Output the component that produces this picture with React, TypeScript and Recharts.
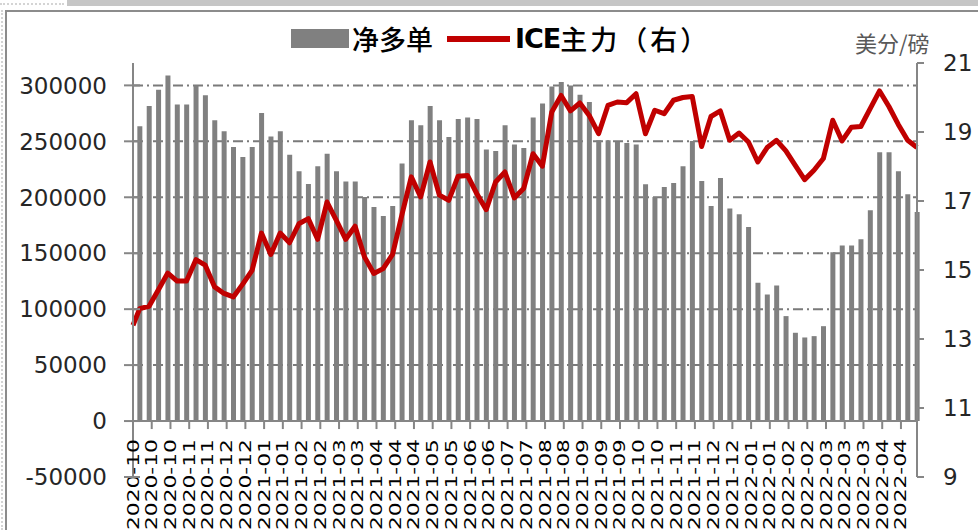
import React from 'react';
import {
  ComposedChart,
  Bar,
  Line,
  XAxis,
  YAxis,
  CartesianGrid,
  ReferenceLine,
  Legend,
} from 'recharts';

// x-axis labels, one every two weeks starting at the axis origin
const tickLabels = [
  '2020-10', '2020-10', '2020-10', '2020-11', '2020-11', '2020-12', '2020-12',
  '2021-01', '2021-01', '2021-02', '2021-02', '2021-03', '2021-03',
  '2021-04', '2021-04', '2021-04', '2021-05', '2021-05', '2021-06', '2021-06',
  '2021-07', '2021-07', '2021-08', '2021-08', '2021-09', '2021-09', '2021-09',
  '2021-10', '2021-10', '2021-11', '2021-11', '2021-12', '2021-12',
  '2022-01', '2022-01', '2022-02', '2022-02', '2022-03', '2022-03', '2022-03',
  '2022-04', '2022-04',
];

// weekly non-commercial net long (lots)
const netLong = [
  263400, 281500, 296200, 308900, 282800, 282800, 300000, 291100, 268800, 258900,
  244900, 236000, 244900, 275300, 254200, 258900, 238100, 223200, 211900, 227700,
  239000, 223200, 214000, 214000, 200300, 191300, 183300, 192200, 230100, 268800,
  264300, 281500, 268800, 253900, 270000, 271200, 270000, 242600, 241400, 264300,
  247100, 244000, 271200, 283700, 299100, 303000, 300000, 291700, 285100, 251000,
  250900, 249400, 248500, 247100, 211600, 200300, 209200, 212800, 227700, 250300,
  214600, 192200, 217200, 189900, 184800, 173500, 123500, 113100, 121200, 93800,
  78900, 74700, 75900, 84800, 150900, 156900, 156900, 162500, 188400, 240200,
  240200, 223200, 202700, 186900,
];

// ICE raw sugar front month (US cents/lb); first value sits on the axis origin
const icePrice = [
  13.4,
  13.88, 13.95, 14.43, 14.91, 14.68, 14.68, 15.3, 15.14, 14.51, 14.32,
  14.22, 14.59, 14.99, 16.07, 15.45, 16.07, 15.79, 16.34, 16.49, 15.89,
  16.97, 16.44, 15.89, 16.27, 15.38, 14.9, 15.04, 15.45, 16.6, 17.7,
  17.12, 18.13, 17.17, 17.02, 17.72, 17.74, 17.21, 16.75, 17.55, 17.84,
  17.09, 17.36, 18.37, 18.01, 19.58, 20.06, 19.61, 19.84, 19.48, 18.95,
  19.77, 19.87, 19.85, 20.11, 18.95, 19.63, 19.53, 19.92, 20.0, 20.03,
  18.58, 19.45, 19.61, 18.76, 18.97, 18.71, 18.13, 18.55, 18.76, 18.45,
  18.03, 17.62, 17.89, 18.23, 19.34, 18.74, 19.14, 19.16, 19.68, 20.19,
  19.74, 19.22, 18.76, 18.55,
];

const leftTicks = [-50000, 0, 50000, 100000, 150000, 200000, 250000, 300000];
const gridValues = [50000, 100000, 150000, 200000, 250000, 300000];
const rightTicks = [9, 11, 13, 15, 17, 19, 21];

// day offsets: axis starts on 2020-10-01, reports every Tuesday from 2020-10-06
const FIRST_REPORT_DAY = 5;
const WEEK = 7;
const LABEL_STEP = 14;
const LAST_DAY = FIRST_REPORT_DAY + WEEK * (netLong.length - 1);

const data = [
  { day: 0, price: icePrice[0] },
  ...netLong.map((net, i) => ({
    day: FIRST_REPORT_DAY + WEEK * i,
    net,
    price: icePrice[i + 1],
  })),
];

const W = 978;
const H = 530;
const PLOT_LEFT = 133;
const PLOT_TOP = 63;
const PLOT_RIGHT = 917;
const PLOT_BOTTOM = 477;
const LEFT_MIN = -50000;
const LEFT_MAX = 320000;
const ZERO_Y = PLOT_TOP + ((LEFT_MAX - 0) / (LEFT_MAX - LEFT_MIN)) * (PLOT_BOTTOM - PLOT_TOP);

const AXIS = '#868686';
const TEXT = '#262626';
const NUM_FONT = '"DejaVu Sans", Verdana, sans-serif';
const CJK_FONT = '"Noto Sans CJK SC", "Noto Sans", sans-serif';

const LeftTick = ({ y, payload }: any) => (
  <g>
    <line x1={PLOT_LEFT - 9} x2={PLOT_LEFT + 7} y1={y} y2={y} stroke={AXIS} strokeWidth={2} />
    <text
      x={PLOT_LEFT - 26}
      y={y}
      dy="0.36em"
      textAnchor="end"
      fill={TEXT}
      fontSize={23}
      fontFamily={NUM_FONT}
    >
      {payload.value}
    </text>
  </g>
);

const RightTick = ({ y, payload }: any) => (
  <g>
    <line x1={PLOT_RIGHT} x2={PLOT_RIGHT + 7} y1={y} y2={y} stroke={AXIS} strokeWidth={2} />
    <text
      x={PLOT_RIGHT + 26}
      y={y}
      dy="0.36em"
      textAnchor="start"
      fill={TEXT}
      fontSize={23}
      fontFamily={NUM_FONT}
    >
      {payload.value}
    </text>
  </g>
);

const DateTick = ({ x, payload }: any) => {
  const label = tickLabels[Math.round(payload.value / LABEL_STEP)];
  return (
    <g>
      <line x1={x} x2={x} y1={ZERO_Y} y2={ZERO_Y + 8} stroke={AXIS} strokeWidth={2} />
      <text
        transform={`translate(${x + 5.5},${ZERO_Y + 18}) rotate(-90)`}
        textAnchor="end"
        fill="#000"
        fontSize={15}
        fontFamily={NUM_FONT}
        textLength={91}
        lengthAdjust="spacingAndGlyphs"
      >
        {label}
      </text>
    </g>
  );
};

// bar swatch first, then the line
const renderLegend = ({ payload }: any) => {
  const items = [...payload].sort((a: any, b: any) => (a.type === 'rect' ? -1 : 0) - (b.type === 'rect' ? -1 : 0));
  return (
    <div style={{ display: 'flex', alignItems: 'center', fontFamily: CJK_FONT, fontSize: 27, color: '#000', whiteSpace: 'nowrap' }}>
      {items.map((entry: any) => {
        const isBar = entry.type === 'rect';
        const text: string = entry.value;
        const latin = text.match(/^[A-Za-z]+/)?.[0] ?? '';
        return (
          <span key={text} style={{ display: 'flex', alignItems: 'center', marginRight: 14 }}>
            {isBar ? (
              <span style={{ display: 'inline-block', width: 58, height: 19, background: '#808080', marginRight: 3 }} />
            ) : (
              <span style={{ display: 'inline-block', width: 63, height: 6, background: '#C00000', marginRight: 5 }} />
            )}
            {latin && <b style={{ fontFamily: NUM_FONT, fontWeight: 700, letterSpacing: -1 }}>{latin}</b>}
            <span style={{ fontWeight: 500, letterSpacing: latin ? 3 : 0 }}>{text.slice(latin.length)}</span>
          </span>
        );
      })}
    </div>
  );
};

export default function App() {
  return (
    <div style={{ position: 'absolute', left: 0, top: 0, width: W, height: H, background: '#fff', overflow: 'hidden' }}>
      {/* worksheet strip and chart frame */}
      <div style={{ position: 'absolute', left: 67, top: 0, width: W - 67, height: 6, background: '#c6c6c6' }} />
      <div style={{ position: 'absolute', left: 0, top: 3, width: 64, borderTop: '2px dotted #d4d4d4' }} />
      <div style={{ position: 'absolute', left: 1, top: 10, height: H - 10, borderLeft: '2px dotted #d4d4d4' }} />
      <div style={{ position: 'absolute', left: 5, top: 10, width: W - 5, height: H, borderTop: '2px solid #8c8c8c', borderLeft: '2px solid #8c8c8c' }} />

      <div style={{ position: 'absolute', left: 0, top: 0 }}>
        <ComposedChart
          width={W}
          height={H}
          data={data}
          margin={{ top: PLOT_TOP, right: 0, bottom: 0, left: 0 }}
        >
          <CartesianGrid
            yAxisId="left"
            vertical={false}
            horizontalValues={gridValues}
            stroke="#7a7a7a"
            strokeWidth={2}
            strokeDasharray="10 4 2 4"
          />
          <XAxis
            dataKey="day"
            type="number"
            domain={[0, LAST_DAY]}
            ticks={tickLabels.map((_, i) => i * LABEL_STEP)}
            interval={0}
            height={H - PLOT_BOTTOM}
            axisLine={false}
            tickLine={false}
            tick={<DateTick />}
          />
          <YAxis
            yAxisId="left"
            width={PLOT_LEFT}
            domain={[LEFT_MIN, LEFT_MAX]}
            ticks={leftTicks}
            interval={0}
            axisLine={{ stroke: AXIS, strokeWidth: 2 }}
            tickLine={false}
            tick={<LeftTick />}
          />
          <YAxis
            yAxisId="right"
            orientation="right"
            width={W - PLOT_RIGHT}
            domain={[9, 21]}
            ticks={rightTicks}
            interval={0}
            axisLine={{ stroke: AXIS, strokeWidth: 2 }}
            tickLine={false}
            tick={<RightTick />}
          />
          <Legend
            layout="horizontal"
            verticalAlign="middle"
            align="center"
            content={renderLegend}
            wrapperStyle={{ top: 19, left: 291, width: 480, height: 36 }}
          />
          <Bar
            yAxisId="left"
            dataKey="net"
            name="净多单"
            fill="#808080"
            barSize={5}
            isAnimationActive={false}
          />
          <ReferenceLine yAxisId="left" y={0} stroke={AXIS} strokeWidth={2} />
          <Line
            yAxisId="right"
            dataKey="price"
            name="ICE主力（右）"
            type="linear"
            stroke="#C00000"
            strokeWidth={5}
            strokeLinejoin="round"
            dot={false}
            activeDot={false}
            isAnimationActive={false}
          />
        </ComposedChart>
      </div>

      <div style={{ position: 'absolute', left: 855, top: 26, fontFamily: CJK_FONT, fontSize: 22, color: '#595959', whiteSpace: 'nowrap' }}>
        美分/磅
      </div>
    </div>
  );
}
